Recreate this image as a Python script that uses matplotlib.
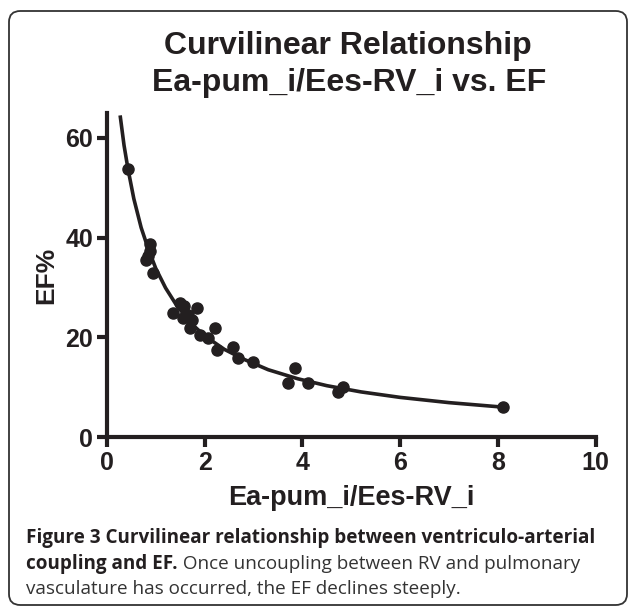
import matplotlib.pyplot as plt
from matplotlib.patches import FancyBboxPatch

# scatter data
ratio = [0.43, 0.88, 0.88, 0.80, 0.85, 0.95, 1.36, 1.49, 1.58, 1.56, 1.65, 1.84,
         1.74, 1.70, 1.90, 2.07, 2.21, 2.25, 2.58, 2.68, 2.99, 3.70, 3.84, 4.11,
         4.72, 4.83, 8.10]
ef = [53.8, 38.8, 37.4, 35.6, 36.4, 32.8, 24.8, 26.8, 26.2, 23.8, 24.5, 25.8,
      23.4, 21.8, 20.4, 19.8, 21.8, 17.4, 18.0, 15.8, 15.0, 10.8, 13.8, 10.8,
      9.0, 10.0, 6.0]

# fitted curve, points
fit_x = [0.27, 0.35, 0.43, 0.55, 0.70, 0.85, 1.0, 1.2, 1.4, 1.7, 2.0, 2.4,
         2.8, 3.3, 3.9, 4.5, 5.2, 6.0, 7.0, 8.1]
fit_y = [64.5, 58.5, 53.8, 47.8, 42.0, 37.6, 33.8, 29.9, 26.8, 23.0, 20.3, 17.6,
         15.6, 13.5, 11.7, 10.3, 9.05, 7.95, 6.9, 6.0]

xticks = [0, 2, 4, 6, 8, 10]
yticks = [0, 20, 40, 60]

ink = '#231f20'
plt.rcParams['font.family'] = ['Liberation Sans', 'DejaVu Sans']

fig = plt.figure(figsize=(6.29, 6.07), dpi=100)
ax = fig.add_axes([0.170, 0.280, 0.777, 0.534])

ax.plot(fit_x, fit_y, color=ink, lw=2.6, solid_capstyle='butt', zorder=2)
ax.plot(ratio, ef, 'o', color=ink, ms=8, zorder=3)

ax.set_xlim(0, 10)
ax.set_ylim(0, 65)
ax.set_xticks(xticks)
ax.set_yticks(yticks)
for s in ['top', 'right']:
    ax.spines[s].set_visible(False)
for s in ['left', 'bottom']:
    ax.spines[s].set_linewidth(3)
    ax.spines[s].set_color(ink)
ax.tick_params(width=3, length=7, color=ink, labelsize=18, pad=3)
for lab in ax.get_xticklabels() + ax.get_yticklabels():
    lab.set_fontweight('bold')
    lab.set_color(ink)

ax.set_xlabel('Ea-pum_i/Ees-RV_i', fontsize=19.5, fontweight='bold', color=ink, labelpad=7)
ax.set_ylabel('EF%', fontsize=19, fontweight='bold', color=ink, labelpad=5)

fig.text(0.553, 0.924, 'Curvilinear Relationship', ha='center', va='center',
         fontsize=23, fontweight='bold', color=ink)
fig.text(0.555, 0.864, 'Ea-pum_i/Ees-RV_i vs. EF', ha='center', va='center',
         fontsize=23, fontweight='bold', color=ink)

# rounded frame around the figure panel
frame = FancyBboxPatch((9 / 629, 2 / 607), 618 / 629, 594 / 607,
                       boxstyle='round,pad=0,rounding_size=0.018',
                       transform=fig.transFigure, fill=False, ec='#333333', lw=1.3)
fig.patches.append(frame)

# caption, bold lead-in then regular text
cap_font = ['Open Sans', 'DejaVu Sans']
cap_size = 13.6
x0 = 26 / 629
lines = [
    ('Figure 3 Curvilinear relationship between ventriculo-arterial', ''),
    ('coupling and EF.', ' Once uncoupling between RV and pulmonary'),
    ('', 'vasculature has occurred, the EF declines steeply.'),
]
ys = [1 - 538 / 607, 1 - 564 / 607, 1 - 589 / 607]
fig.canvas.draw()
r = fig.canvas.get_renderer()
for (b, n), y in zip(lines, ys):
    x = x0
    if b:
        t = fig.text(x, y, b, fontsize=cap_size, fontweight='bold', family=cap_font,
                     color=ink, va='center')
        bb = t.get_window_extent(renderer=r)
        x = bb.x1 / fig.bbox.width
    if n:
        fig.text(x, y, n, fontsize=cap_size, family=cap_font, color='#333333', va='center')

fig.savefig('out.png', dpi=100)
